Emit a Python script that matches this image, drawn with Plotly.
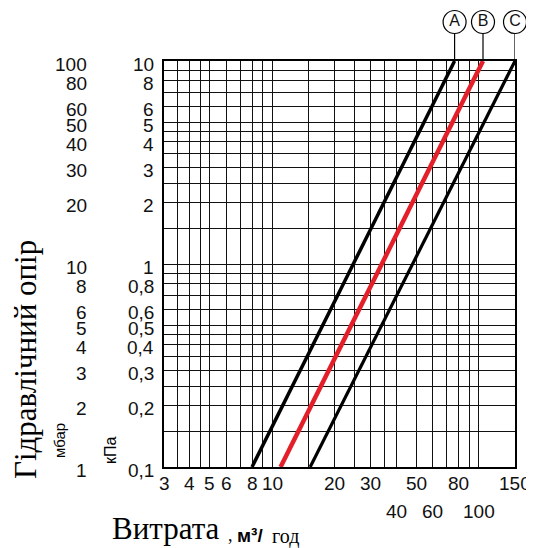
import numpy as np
import plotly.graph_objects as go

# ---- data ----
dp_kpa = [0.1, 10]                 # pressure drop range of each curve, kPa
flow_A = [8, 76.5]                 # m3/h at 0.1 and 10 kPa
flow_B = [11, 105]
flow_C = [15.3, 150]
curve_names = ["A", "B", "C"]

x_grid = [3, 3.5, 4, 4.5, 5, 6, 7, 8, 9, 10, 15, 20, 25, 30, 35, 40, 50, 60, 70, 80, 90, 100, 150]
y_grid = [0.1, 0.15, 0.2, 0.25, 0.3, 0.35, 0.4, 0.45, 0.5, 0.6, 0.7, 0.8, 0.9, 1,
          1.5, 2, 2.5, 3, 3.5, 4, 4.5, 5, 6, 7, 8, 9, 10]

x_labels_row1 = [3, 4, 5, 6, 8, 10, 20, 30, 50, 80, 150]
x_labels_row2 = [40, 60, 100]
kpa_ticks = [10, 8, 6, 5, 4, 3, 2, 1, 0.8, 0.6, 0.5, 0.4, 0.3, 0.2, 0.1]
kpa_text = ["10", "8", "6", "5", "4", "3", "2", "1", "0,8", "0,6", "0,5", "0,4", "0,3", "0,2", "0,1"]
mbar_text = ["100", "80", "60", "50", "40", "30", "20", "10", "8", "6", "5", "4", "3", "2", "1"]

SANS = "Liberation Sans, Arial, sans-serif"
SERIF = "Liberation Serif, Times New Roman, serif"

# page body has an 8px default margin; compensate so the plot sits like the reference
W, H = 526, 540
ML, MR, MT, MB = 156, 19, 0, 81
TOP_STRIP = 53                     # px strip above the grid for the circled letters
paper_h = H - MT - MB
split = 1 - TOP_STRIP / paper_h

fig = go.Figure()
styles = {"A": ("black", 3.5), "B": ("#e3202a", 4.5), "C": ("black", 3.2)}
flows = {"A": flow_A, "B": flow_B, "C": flow_C}
for name in curve_names:
    col, w = styles[name]
    fig.add_trace(go.Scatter(x=flows[name], y=dp_kpa, mode="lines",
                             line=dict(color=col, width=w), showlegend=False,
                             hoverinfo="skip"))

# circled curve letters with leader lines (top strip subplot, y2 in px above grid)
for name in curve_names:
    xt = flows[name][-1]
    fig.add_trace(go.Scatter(x=[xt, xt], y=[0, 39], xaxis="x2", yaxis="y2",
                             mode="lines+markers+text", text=["", name],
                             textposition="middle center",
                             textfont=dict(family=SANS, size=16, color="#111"),
                             line=dict(color="black", width=1.2),
                             marker=dict(size=[0, 23], color="white", opacity=1,
                                         line=dict(color="black", width=1.2)),
                             cliponaxis=False, showlegend=False, hoverinfo="skip"))

axis_common = dict(type="log", showgrid=True, gridcolor="#111", gridwidth=1.1,
                   showticklabels=False, ticks="", showline=True, mirror=True,
                   linecolor="black", linewidth=1.5, zeroline=False)
xr = [np.log10(3), np.log10(150)]
fig.update_layout(
    xaxis=dict(range=xr, tickvals=x_grid, anchor="y", **axis_common),
    yaxis=dict(range=[-1, 1], tickvals=y_grid, domain=[0, split], anchor="x", **axis_common),
    xaxis2=dict(type="log", range=xr, visible=False, anchor="y2", showgrid=False),
    yaxis2=dict(range=[0, TOP_STRIP], domain=[split, 1], visible=False,
                anchor="x2", showgrid=False),
)

TICK_FONT = dict(family=SANS, size=19, color="#111")
ann = []
for v in x_labels_row1:
    ann.append(dict(x=np.log10(v), xref="x", y=0, yref="paper", text=str(v),
                    showarrow=False, yanchor="middle", yshift=-16, font=TICK_FONT))
for v in x_labels_row2:
    ann.append(dict(x=np.log10(v), xref="x", y=0, yref="paper", text=str(v),
                    showarrow=False, yanchor="middle", yshift=-44, font=TICK_FONT))
for v, t, m in zip(kpa_ticks, kpa_text, mbar_text):
    ann.append(dict(x=0, xref="paper", y=np.log10(v), yref="y", text=t,
                    showarrow=False, xanchor="right", yanchor="middle",
                    xshift=-8, yshift=-3, font=TICK_FONT))
    ann.append(dict(x=0, xref="paper", y=np.log10(v), yref="y", text=m,
                    showarrow=False, xanchor="right", yanchor="middle",
                    xshift=-75, yshift=-3, font=TICK_FONT))

# axis titles (positions given in px relative to the grid's lower-left corner)
ann.append(dict(x=0, xref="paper", y=0, yref="paper", text="Гідравлічний опір",
                textangle=-90, showarrow=False, xanchor="center", yanchor="middle",
                xshift=-139, yshift=107, font=dict(family=SERIF, size=31, color="black")))
ann.append(dict(x=0, xref="paper", y=0, yref="paper", text="мбар",
                textangle=-90, showarrow=False, xanchor="center", yanchor="middle",
                xshift=-105, yshift=26, font=dict(family=SANS, size=15, color="black")))
ann.append(dict(x=0, xref="paper", y=0, yref="paper", text="кПа",
                textangle=-90, showarrow=False, xanchor="center", yanchor="middle",
                xshift=-54, yshift=17, font=dict(family=SANS, size=16, color="black")))
ann.append(dict(x=0, xref="paper", y=0, yref="paper", text="Витрата",
                showarrow=False, xanchor="center", yanchor="middle",
                xshift=1.5, yshift=-61, font=dict(family=SERIF, size=31, color="black")))
ann.append(dict(x=0, xref="paper", y=0, yref="paper", text=",",
                showarrow=False, xanchor="left", yanchor="middle",
                xshift=62, yshift=-68, font=dict(family=SERIF, size=18, color="black")))
ann.append(dict(x=0, xref="paper", y=0, yref="paper", text="<b>м³/</b>",
                showarrow=False, xanchor="left", yanchor="middle",
                xshift=71, yshift=-68, font=dict(family=SANS, size=19, color="black")))
ann.append(dict(x=0, xref="paper", y=0, yref="paper", text="год",
                showarrow=False, xanchor="left", yanchor="middle",
                xshift=106, yshift=-69, font=dict(family=SERIF, size=20, color="black")))

fig.update_layout(width=W, height=H, margin=dict(l=ML, r=MR, t=MT, b=MB),
                  plot_bgcolor="white", paper_bgcolor="white",
                  annotations=ann, showlegend=False)
fig.write_html("out.html")
